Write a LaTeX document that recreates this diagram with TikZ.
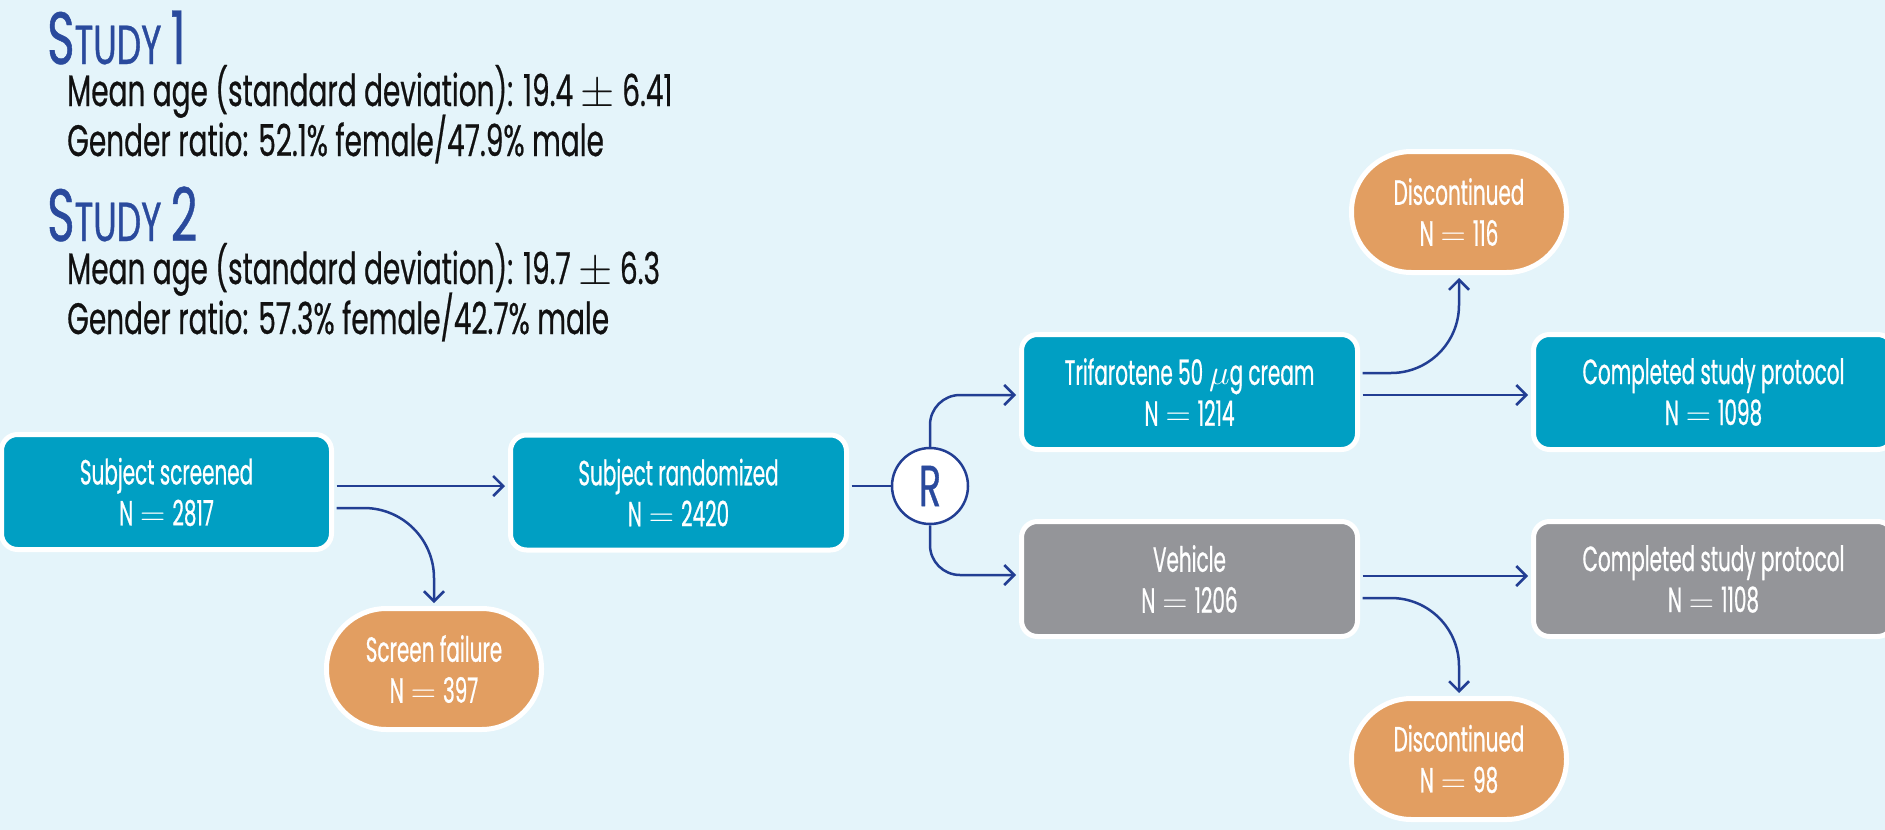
\RequirePackage{fix-cm}
\documentclass[tikz,border=0pt]{standalone}
\usepackage{fontspec}
\setmainfont[FakeStretch=0.635,FakeBold=0.5]{Poppins}
\newfontfamily\boxfam[FakeStretch=0.57,FakeBold=0.6]{Poppins}
\newfontfamily\titlefam[FakeStretch=0.63,FakeBold=0.6]{Poppins}
\usetikzlibrary{arrows.meta}
\definecolor{bgblue}{HTML}{E4F4FA}
\definecolor{tealbox}{HTML}{009FC3}
\definecolor{graybox}{HTML}{949599}
\definecolor{orangebox}{HTML}{E29E61}
\definecolor{arrowblue}{HTML}{223E93}
\definecolor{titleblue}{HTML}{2A4A9D}
\definecolor{bodytext}{HTML}{111111}
\newcommand\boxfont{\boxfam\fontsize{35}{41}\selectfont}
\newcommand\bigT{\fontsize{74}{74}\selectfont}
\newcommand\smallT{\fontsize{55}{55}\selectfont}
\newcommand\infofont{\fontsize{44}{50}\selectfont}
\newcommand\Neq[1]{N\hspace{7pt}$=$\hspace{7pt}#1}
\tikzset{
  box/.style={draw=white, line width=5pt, rounded corners=16pt, minimum width=336pt,
    minimum height=115pt, text=white, align=center, font=\boxfont, inner sep=0pt},
  tealb/.style={box, fill=tealbox},
  grayb/.style={box, fill=graybox},
  pill/.style={draw=white, line width=5pt, rounded corners=60pt, fill=orangebox,
    minimum width=215pt, minimum height=121pt, text=white, align=center,
    font=\boxfont, inner sep=0pt},
  conn/.style={draw=arrowblue, line width=2.5pt, shorten <=2.5pt},
  arr/.style={conn, -{Straight Barb[length=10pt,width=20pt]}, shorten >=3pt},
  info/.style={anchor=base west, inner sep=0pt, text=bodytext, font=\infofont},
  title/.style={anchor=base west, inner sep=0pt, text=titleblue, font=\titlefam},
}
\begin{document}
\begin{tikzpicture}[x=1pt,y=-1pt]
\clip (0,0) rectangle (1885,830);
\fill[bgblue] (0,0) rectangle (1885,830);
% study info
\node[title] (s1) at (47,64) {\bigT S\smallT TUDY \bigT 1};
\node[info] (s1a) at (67,106) {Mean age (standard deviation): 19.4 $\pm$ 6.41};
\node[info] (s1b) at (67,156) {Gender ratio: 52.1\% female/47.9\% male};
\node[title] (s2) at (47,241) {\bigT S\smallT TUDY \bigT 2};
\node[info] (s2a) at (67,284) {Mean age (standard deviation): 19.7 $\pm$ 6.3};
\node[info] (s2b) at (67,334) {Gender ratio: 57.3\% female/42.7\% male};
% boxes
\node[tealb, minimum width=330pt] (scr) at (166.5,492) {Subject screened\\\Neq{2817}};
\node[tealb] (rnd) at (678.5,492.5) {Subject randomized\\\Neq{2420}};
\node[circle, draw=arrowblue, line width=2.5pt, fill=white, minimum size=76pt,
  inner sep=0pt, text=titleblue, font=\titlefam\fontsize{58}{58}\selectfont] (R) at (930,486) {R};
\node[tealb] (tri) at (1189.5,392) {Trifarotene 50\,$\mu$g cream\\\Neq{1214}};
\node[grayb] (veh) at (1189.5,579) {Vehicle\\\Neq{1206}};
\node[tealb, minimum width=360pt] (c1) at (1713.5,392) {Completed study protocol\\\Neq{1098}};
\node[grayb, minimum width=360pt] (c2) at (1713.5,579) {Completed study protocol\\\Neq{1108}};
\node[pill] (fail) at (434,669) {Screen failure\\\Neq{397}};
\node[pill] (d1) at (1459,212) {Discontinued\\\Neq{116}};
\node[pill] (d2) at (1459,759) {Discontinued\\\Neq{98}};
% connectors
\draw[arr] ([yshift=6pt]scr.east) -- ([yshift=6pt]scr.east -| rnd.west);
\draw[arr, rounded corners=70pt] ([yshift=-16pt]scr.east) -| (fail.north);
\draw[conn] (R.west -| rnd.east) -- (R.west);
\draw[arr, rounded corners=30pt, shorten <=0pt] (R.north) |- ([yshift=-3pt]tri.west);
\draw[arr, rounded corners=30pt, shorten <=0pt] (R.south) |- ([yshift=4pt]veh.west);
\draw[arr] ([yshift=-3pt]tri.east) -- ([yshift=-3pt]tri.east -| c1.west);
\draw[arr, rounded corners=68pt] ([yshift=19pt]tri.east) -| (d1.south);
\draw[arr] ([yshift=3pt]veh.east) -- ([yshift=3pt]veh.east -| c2.west);
\draw[arr, rounded corners=68pt] ([yshift=-19pt]veh.east) -| (d2.north);
\end{tikzpicture}
\end{document}
